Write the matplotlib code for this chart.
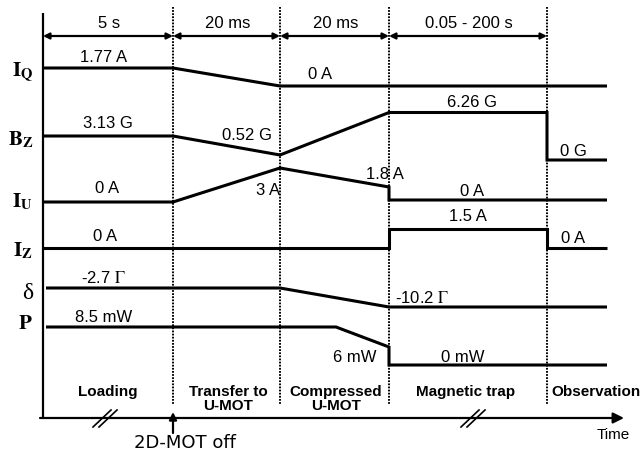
import matplotlib
matplotlib.use("Agg")
import matplotlib.pyplot as plt

plt.rcParams['font.family'] = ['Liberation Sans', 'DejaVu Sans']
plt.rcParams['mathtext.fontset'] = 'stix'

# ---------------- data (schematic timing diagram, canvas units) ----------------
phase_edges = [43, 173, 280, 389, 547, 607]          # time axis positions of phase boundaries
phase_names = ['Loading', 'Transfer to\nU-MOT', 'Compressed\nU-MOT', 'Magnetic trap', 'Observation']
phase_label_x = [108, 228, 336, 466, 596]
durations = ['5 s', '20 ms', '20 ms', '0.05 - 200 s']

signal_names = [r'$\mathbf{I}_\mathbf{Q}$', r'$\mathbf{B}_\mathbf{Z}$', r'$\mathbf{I}_\mathbf{U}$',
                r'$\mathbf{I}_\mathbf{Z}$', 'δ', r'$\mathbf{P}$']
signal_label_y = [76, 145, 207, 256, 299, 329]

IQ_t = [43, 173, 280, 607]
IQ_lvl = [68, 68, 86, 86]
BZ_t = [43, 173, 280, 389, 547, 547, 607]
BZ_lvl = [136, 136, 155, 112.5, 112.5, 160, 160]
IU_t = [43, 173, 280, 389, 389, 607]
IU_lvl = [202, 202, 168, 187, 200, 200]
IZ_t = [43, 389, 389, 547, 547, 607]
IZ_lvl = [248, 248, 229, 229, 248, 248]
delta_t = [46, 280, 389, 607]
delta_lvl = [288, 288, 307, 307]
P_t = [46, 336, 389, 389, 607]
P_lvl = [327, 327, 347, 365, 365]

value_labels = ['1.77 A', '0 A', '3.13 G', '0.52 G', '6.26 G', '0 G',
                '0 A', '3 A', '1.8 A', '0 A', '0 A', '1.5 A', '0 A',
                r'-2.7 $\Gamma$', r'-10.2 $\Gamma$', '8.5 mW', '6 mW', '0 mW']
value_x = [104, 320, 108, 247, 472, 573, 107, 268, 385, 472, 105, 468, 573,
           103, 422, 104, 355, 463]
value_y = [62, 79, 128, 140, 107, 156, 193, 195, 179, 196, 241, 221, 243,
           283, 303, 322, 362, 362]

break_marks = [105, 473]
event_t = 173
event_label = '2D-MOT off'

# ---------------- figure ----------------
fig = plt.figure(figsize=(6.41, 4.51), dpi=100)
ax = fig.add_axes([0, 0, 1, 1])
ax.set_xlim(0, 641)
ax.set_ylim(451, 0)
ax.axis('off')

axis_y = 418
# vertical axis
ax.plot([phase_edges[0], phase_edges[0]], [13, axis_y], color='black', lw=1.6, solid_capstyle='butt')
# time axis with arrow
ax.annotate('', xy=(624, axis_y), xytext=(40, axis_y),
            arrowprops=dict(arrowstyle='-|>', lw=1.6, color='black',
                            mutation_scale=16, shrinkA=0, shrinkB=0))
ax.text(613, 439, 'Time', ha='center', va='baseline', fontsize=11)

# dotted phase boundaries
for x in phase_edges[1:5]:
    ax.plot([x, x], [7, 405], color='black', lw=1.4, linestyle=(0, (0.9, 0.7)))

# duration arrows
for i, lab in enumerate(durations):
    x0, x1 = phase_edges[i], phase_edges[i + 1]
    ax.annotate('', xy=(x1, 36), xytext=(x0, 36),
                arrowprops=dict(arrowstyle='<|-|>', lw=1.6, color='black',
                                mutation_scale=9, shrinkA=0, shrinkB=0))
    ax.text((x0 + x1) / 2 + 1, 28, lab, ha='center', va='baseline', fontsize=12)

# signal traces
for t, lvl in [(IQ_t, IQ_lvl), (BZ_t, BZ_lvl), (IU_t, IU_lvl), (IZ_t, IZ_lvl),
               (delta_t, delta_lvl), (P_t, P_lvl)]:
    ax.plot(t, lvl, color='black', lw=2.2, solid_joinstyle='miter', solid_capstyle='butt')

# signal names
for name, y in zip(signal_names, signal_label_y):
    if name == 'δ':
        ax.text(33, y, name, ha='right', va='baseline', fontsize=17,
                family=['Liberation Serif', 'DejaVu Serif'])
    else:
        ax.text(33, y, name, ha='right', va='baseline', fontsize=15)

# value labels
for lab, x, y in zip(value_labels, value_x, value_y):
    ax.text(x, y, lab, ha='center', va='baseline', fontsize=12)

# phase names
for name, x in zip(phase_names, phase_label_x):
    if '\n' in name:
        ax.text(x, 399, name, ha='center', va='center', fontsize=11,
                fontweight='bold', linespacing=1.0)
    else:
        ax.text(x, 392, name, ha='center', va='center', fontsize=11, fontweight='bold')

# break marks on time axis
for bx in break_marks:
    for off in (-3, 3):
        ax.plot([bx + off - 9, bx + off + 9], [axis_y + 9, axis_y - 8],
                color='black', lw=1.2)

# event arrow
ax.annotate('', xy=(event_t, 412), xytext=(event_t, 433),
            arrowprops=dict(arrowstyle='-|>', lw=1.6, color='black',
                            mutation_scale=11, shrinkA=0, shrinkB=0))
ax.text(185, 448, event_label, ha='center', va='baseline', fontsize=13,
        family=['DejaVu Sans'])

fig.savefig('out.png', dpi=100)
